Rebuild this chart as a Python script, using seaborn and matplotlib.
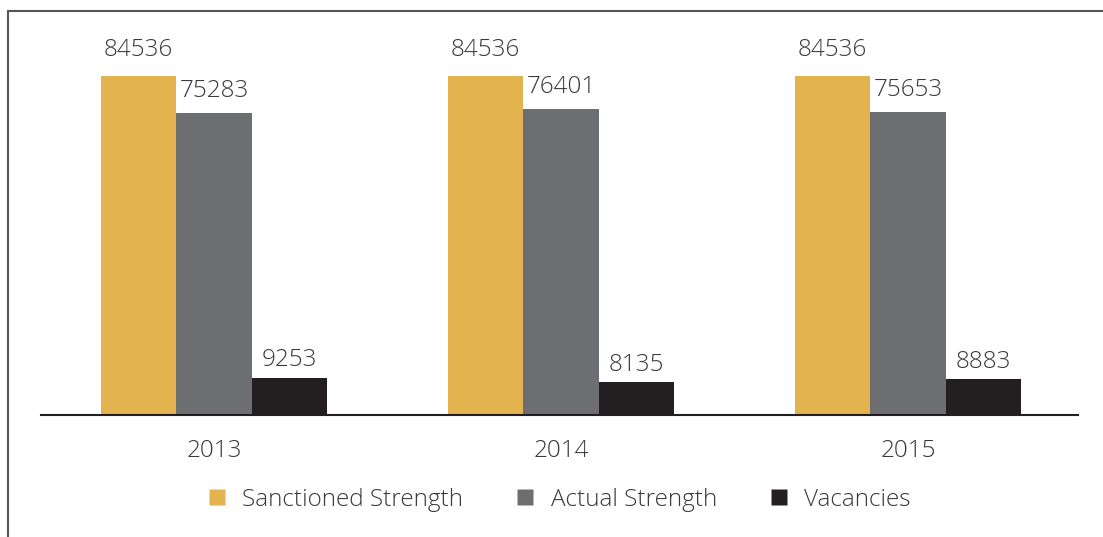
import matplotlib
matplotlib.use("Agg")
import matplotlib.pyplot as plt
from matplotlib.lines import Line2D
import pandas as pd
import seaborn as sns

years = ["2013", "2014", "2015"]
series = ["Sanctioned Strength", "Actual Strength", "Vacancies"]
sanctioned = [84536, 84536, 84536]
actual = [75283, 76401, 75653]
vacancies = [9253, 8135, 8883]
colors = ["#E2B34F", "#6D6E70", "#231F20"]

df = pd.DataFrame({
    "year": years * 3,
    "series": [series[0]] * 3 + [series[1]] * 3 + [series[2]] * 3,
    "value": sanctioned + actual + vacancies,
})

sns.set_style("white")
plt.rcParams["font.family"] = ["Open Sans", "DejaVu Sans"]
text_color = "#3a3a3a"
fs = 17.5

fig = plt.figure(figsize=(11.03, 5.37), dpi=100)
ax = fig.add_axes([41 / 1103, 1 - 415 / 537, 1037 / 1103, 401 / 537])

sns.barplot(data=df, x="year", y="value", hue="series", hue_order=series,
            palette=colors, saturation=1, width=0.654, ax=ax, legend=False,
            edgecolor="none", linewidth=0)

pads = [10, 7, 4]
for c, p in zip(ax.containers, pads):
    ax.bar_label(c, labels=[str(int(v)) for v in c.datavalues], padding=p,
                 fontsize=fs, color=text_color, fontweight="light")

ax.set_xlim(-0.4986, 2.4899)
ax.set_ylim(0, 100000)
ax.set_xlabel("")
ax.set_ylabel("")
ax.set_yticks([])
ax.tick_params(axis="x", length=0, pad=17, labelsize=fs, labelcolor=text_color)
for lbl in ax.get_xticklabels():
    lbl.set_fontweight("light")
for s in ["top", "left", "right"]:
    ax.spines[s].set_visible(False)
ax.spines["bottom"].set_color("#231F20")
ax.spines["bottom"].set_linewidth(1.5)

handles = [Line2D([], [], marker="s", linestyle="none", markersize=12,
                  markerfacecolor=col, markeredgecolor="none") for col in colors]
fig.legend(handles, series, loc="center", bbox_to_anchor=(559 / 1103, 1 - 500 / 537),
           ncol=3, frameon=False, labelcolor=text_color,
           handlelength=0.8, handletextpad=0.65, columnspacing=2.15,
           prop={"weight": "light", "size": fs})

# outer frame lines
fig.add_artist(Line2D([8 / 1103, 1], [1 - 10.5 / 537] * 2, color="#555555", lw=1.5))
fig.add_artist(Line2D([8 / 1103] * 2, [0, 1 - 10.5 / 537], color="#555555", lw=1.5))

fig.savefig("out.png", dpi=100)
